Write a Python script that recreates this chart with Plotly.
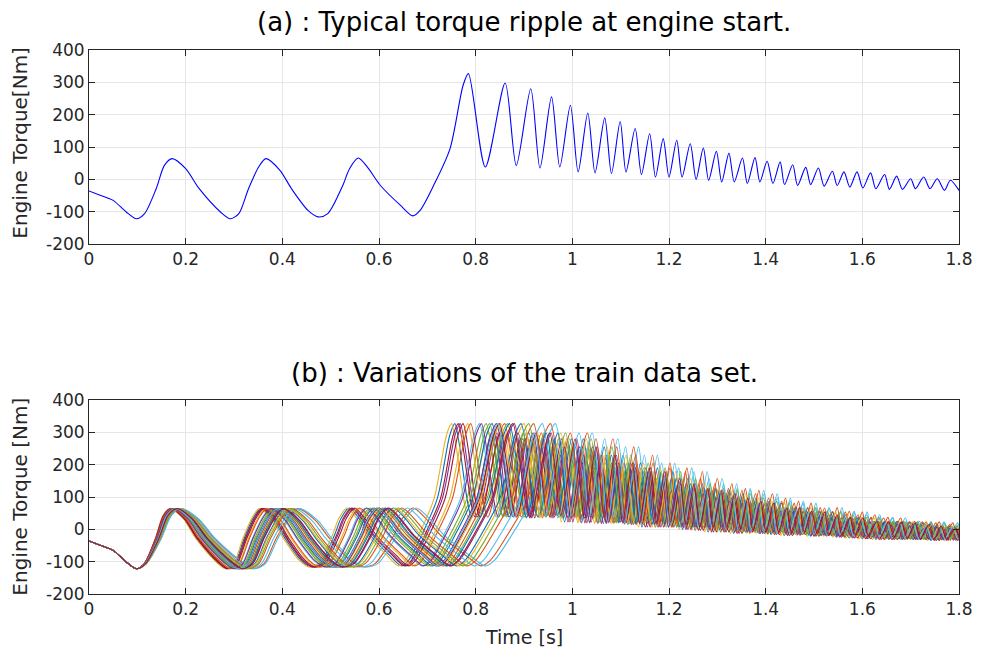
import plotly.graph_objects as go

# ---- data (top panel key points: peaks / troughs / slopes) ----
time_s = [
    0.000, 0.023, 0.050, 0.077, 0.098, 0.115, 0.139, 0.156, 0.172, 0.200,
    0.228, 0.272, 0.292, 0.310, 0.330, 0.351, 0.366, 0.395, 0.419, 0.453,
    0.474, 0.494, 0.525, 0.539, 0.557, 0.576, 0.603, 0.644, 0.670, 0.685,
    0.713, 0.747, 0.774, 0.785, 0.820, 0.861, 0.884, 0.914, 0.933, 0.957,
    0.974, 0.996, 1.012, 1.032, 1.047, 1.067, 1.081, 1.099, 1.111, 1.130,
    1.143, 1.160, 1.172, 1.188, 1.200, 1.216, 1.227, 1.244, 1.256, 1.271,
    1.282, 1.298, 1.309, 1.324, 1.335, 1.352, 1.362, 1.378, 1.388, 1.403,
    1.415, 1.430, 1.439, 1.456, 1.466, 1.483, 1.493, 1.509, 1.521, 1.538,
    1.548, 1.562, 1.574, 1.589, 1.601, 1.617, 1.628, 1.646, 1.656, 1.671,
    1.683, 1.700, 1.710, 1.727, 1.740, 1.755, 1.770, 1.782, 1.800,
]
torque_nm = [
    -36, -49, -65, -101, -122, -106, -29, 43, 64, 33,
    -29, -101, -122, -106, -29, 38, 64, 28, -29, -96,
    -116, -106, -19, 33, 66, 38, -19, -80, -113, -96,
    -19, 95, 291, 327, 38, 298, 43, 280, 35, 255,
    38, 229, 23, 205, 20, 190, 18, 179, 23, 157,
    15, 141, 7, 126, 7, 121, 7, 110, 0, 97,
    -3, 87, -8, 81, -8, 66, -13, 67, -8, 56,
    -13, 54, -16, 45, -19, 37, -16, 35, -21, 25,
    -19, 23, -24, 23, -27, 20, -29, 15, -31, 10,
    -31, 2, -29, 7, -29, 2, -34, -3, -34,
]

# firing-peak times of the train-set variations (bottom panel), one per line
fire_peak_times = [
    0.757, 0.955, 0.750, 0.768, 0.822, 0.808, 0.764,
    0.834, 0.860, 0.784, 0.843, 0.866, 0.965, 0.774,
    0.894, 0.790, 0.852, 0.880, 0.829, 0.938, 0.849,
    0.870, 0.920, 0.900, 0.812, 0.910, 0.846, 0.877,
]
crank_start_t = 0.1
ref_fire_peak_t = 0.785

x_ticks = [0, 0.2, 0.4, 0.6, 0.8, 1.0, 1.2, 1.4, 1.6, 1.8]
x_tick_text = ["0", "0.2", "0.4", "0.6", "0.8", "1", "1.2", "1.4", "1.6", "1.8"]
y_ticks = [-200, -100, 0, 100, 200, 300, 400]
y_tick_text = ["-200", "-100", "0", "100", "200", "300", "400"]

matlab_colors = ["#0072BD", "#D95319", "#EDB120", "#7E2F8E", "#77AC30", "#4DBEEE", "#A2142F"]

FONT = "DejaVu Sans"
W, H = 985, 657
ML, MR, MT, MB = 89, 18, 50, 63
PH = H - MT - MB


def py(px):  # pixel row -> paper y
    return 1 - (px - MT) / PH


def px_x(px):
    return (px - ML) / (W - ML - MR)


fig = go.Figure()

fig.add_trace(go.Scatter(
    x=time_s, y=torque_nm, mode="lines",
    line=dict(color="#0000FF", width=1.1, shape="spline", smoothing=0.8),
    xaxis="x", yaxis="y", showlegend=False, hoverinfo="skip",
))


def warp(t, tp):
    k = (tp - crank_start_t) / (ref_fire_peak_t - crank_start_t)
    if t <= crank_start_t:
        return t
    if t <= ref_fire_peak_t:
        return crank_start_t + (t - crank_start_t) * k
    return t + (tp - ref_fire_peak_t)


for i, tp in enumerate(fire_peak_times):
    xs = [warp(t, tp) for t in time_s]
    fig.add_trace(go.Scatter(
        x=xs, y=torque_nm, mode="lines",
        line=dict(color=matlab_colors[i % 7], width=1.1, shape="spline", smoothing=0.8),
        xaxis="x2", yaxis="y2", showlegend=False, hoverinfo="skip",
    ))

axis_common = dict(
    showline=True, linecolor="#262626", linewidth=1, mirror="ticks",
    ticks="inside", ticklen=6, tickcolor="#262626", tickwidth=1,
    showgrid=True, gridcolor="#e6e6e6", gridwidth=1, zeroline=False,
    tickfont=dict(family=FONT, size=17, color="#262626"),
)

top_dom = [py(244), py(50)]
bot_dom = [py(594), py(400)]

fig.update_layout(
    width=W, height=H,
    margin=dict(l=ML, r=MR, t=MT, b=MB),
    paper_bgcolor="white", plot_bgcolor="white",
    font=dict(family=FONT, color="#262626"),
    xaxis=dict(domain=[0, 1], range=[0, 1.8], tickvals=x_ticks, ticktext=x_tick_text,
               anchor="y", **axis_common),
    yaxis=dict(domain=top_dom, range=[-200, 400], tickvals=y_ticks, ticktext=y_tick_text,
               anchor="x", **axis_common),
    xaxis2=dict(domain=[0, 1], range=[0, 1.8], tickvals=x_ticks, ticktext=x_tick_text,
                anchor="y2", **axis_common),
    yaxis2=dict(domain=bot_dom, range=[-200, 400], tickvals=y_ticks, ticktext=y_tick_text,
                anchor="x2", **axis_common),
)

ann = [
    dict(text="(a) : Typical torque ripple at engine start.", x=0.5, y=py(22),
         font=dict(size=26, color="#000000")),
    dict(text="(b) : Variations of the train data set.", x=0.5, y=py(373),
         font=dict(size=26, color="#000000")),
    dict(text="Engine Torque[Nm]", x=px_x(19), y=py(143), textangle=-90,
         font=dict(size=20, color="#262626")),
    dict(text="Engine Torque [Nm]", x=px_x(19), y=py(497), textangle=-90,
         font=dict(size=20, color="#262626")),
    dict(text="Time [s]", x=0.5, y=py(637), font=dict(size=19, color="#262626")),
]
for a in ann:
    a.update(xref="paper", yref="paper", showarrow=False, xanchor="center", yanchor="middle")
    a["font"]["family"] = FONT
fig.update_layout(annotations=ann)

fig.write_html("out.html")
